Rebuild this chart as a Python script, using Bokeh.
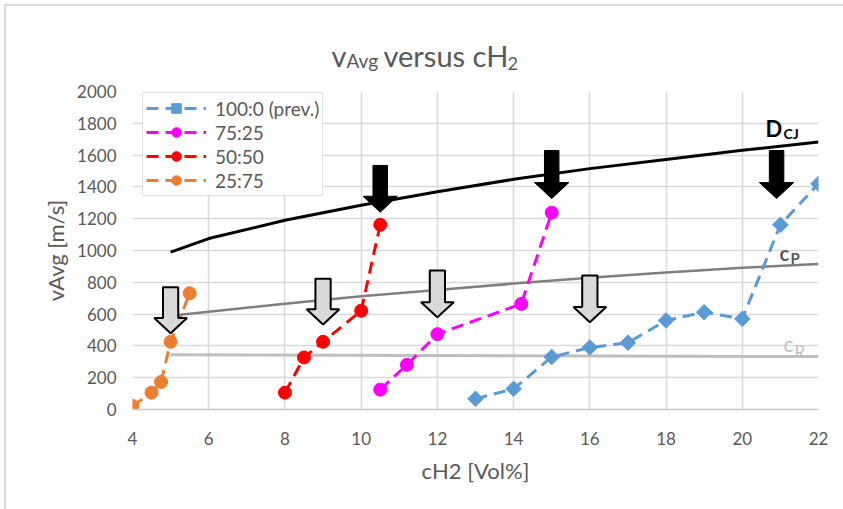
import math
from bokeh.plotting import figure
from bokeh.models import Label, SingleIntervalTicker, Legend, LegendItem, Range1d
from bokeh.layouts import column
from bokeh.core.properties import value
from bokeh.embed import file_html
from bokeh.resources import INLINE

# ---------------- data ----------------
blue_x = [13, 14, 15, 16, 17, 18, 19, 20, 21, 22]
blue_y = [67, 130, 330, 390, 420, 560, 612, 570, 1162, 1420]
mag_x = [10.5, 11.2, 12, 14.2, 15]
mag_y = [125, 281, 474, 664, 1238]
red_x = [8, 8.5, 9, 10, 10.5]
red_y = [106, 327, 426, 621, 1162]
ora_x = [4, 4.5, 4.75, 5, 5.5]
ora_y = [22, 106, 173, 426, 731]

dcj_x = [5, 6, 8, 10, 12, 14, 16, 18, 20, 22]
dcj_y = [990, 1075, 1190, 1285, 1370, 1448, 1515, 1572, 1630, 1683]
cp_x = [5, 6, 8, 10, 12, 14, 16, 18, 20, 22]
cp_y = [590, 615, 665, 712, 752, 792, 828, 862, 892, 915]
cr_x = [5, 22]
cr_y = [345, 333]

# arrows: centre x, top of shaft, tip (data units)
black_arrow_x = [10.5, 15, 20.9]
black_arrow_top = [1535, 1629, 1629]
black_arrow_tip = [1241, 1327, 1327]
gray_arrow_x = [5, 9, 12, 16]
gray_arrow_top = [769, 822, 874, 843]
gray_arrow_tip = [480, 535, 580, 549]

legend_labels = ["100:0 (prev.)", "75:25", "50:50", "25:75"]
title_parts = ["v", "Avg", "versus cH", "2"]

# ---------------- layout ----------------
W, H = 843, 509
OX, OY = 6, 6                    # chart-area border offset
TH = 91                          # page y of plot frame top
TOPPAD = 14                      # room above frame for the top tick label
L, R, B = 132, 25, 100
X0, X1, Y0, Y1 = 4, 22, 0, 2000
FW, FH = W - L - R, H - TH - B

FONT = "Lato"
TXT = "#595959"
GRID = "#d9d9d9"

# ---- title band (coordinates = page pixels) ----
tf = figure(width=W - OX, height=TH - OY - TOPPAD,
            x_range=Range1d(L, W - R), y_range=Range1d(TH - TOPPAD, OY),
            output_backend="svg", toolbar_location=None,
            x_axis_type=None, y_axis_type=None,
            min_border_left=L - OX, min_border_right=R,
            min_border_top=0, min_border_bottom=0)
tf.title.visible = False
tf.outline_line_color = None
tf.grid.visible = False
tf.text(x=[331, 346, 383, 507], y=[55, 60, 55, 63], text=title_parts,
        text_font=value(FONT), text_font_size=["29px", "19px", "29px", "18px"],
        text_color=TXT, text_baseline="alphabetic", text_align="left")

# ---- chart ----
p = figure(width=W - OX, height=H - TH + TOPPAD, x_range=(X0, X1), y_range=(Y0, Y1),
           output_backend="svg", toolbar_location=None,
           min_border_left=L - OX, min_border_right=R, min_border_top=TOPPAD,
           min_border_bottom=B)
p.title.visible = False
p.outline_line_color = None
p.background_fill_color = "white"
p.border_fill_color = "white"


def sx(px):
    return X0 + (px - L) / FW * (X1 - X0)


def sy(py):
    return Y0 + (H - B - py) / FH * (Y1 - Y0)


p.xaxis.ticker = SingleIntervalTicker(interval=2)
p.yaxis.ticker = SingleIntervalTicker(interval=200)
for ax in (p.xaxis[0], p.yaxis[0]):
    ax.major_tick_line_color = None
    ax.minor_tick_line_color = None
    ax.major_label_text_font = FONT
    ax.major_label_text_font_size = "17px"
    ax.major_label_text_color = TXT
    ax.axis_label_text_font = FONT
    ax.axis_label_text_font_size = "22px"
    ax.axis_label_text_color = TXT
    ax.axis_label_text_font_style = "normal"
p.yaxis.axis_line_color = None
p.xaxis.axis_line_color = "#c8c8c8"
p.xaxis.axis_line_width = 1.5
p.yaxis.major_label_standoff = 10
p.xaxis.major_label_standoff = 16
p.xaxis.axis_label = "cH2 [Vol%]"
p.yaxis.axis_label = "vAvg [m/s]"
p.xaxis.axis_label_standoff = 9
p.yaxis.axis_label_standoff = 5
p.xgrid.grid_line_color = GRID
p.ygrid.grid_line_color = GRID
p.xgrid.grid_line_width = 1.5
p.ygrid.grid_line_width = 1.5

# reference curves
p.line(dcj_x, dcj_y, line_color="black", line_width=3)
p.line(cp_x, cp_y, line_color="#7f7f7f", line_width=2.5)
p.line(cr_x, cr_y, line_color="#bfbfbf", line_width=3)

DASH = "12 7"
series = [
    (blue_x, blue_y, "#5b9bd5", "square", 11, math.pi / 4),
    (mag_x, mag_y, "#ff00ff", "circle", 13, 0),
    (red_x, red_y, "#ff0000", "circle", 13, 0),
    (ora_x, ora_y, "#ed7d31", "circle", 13, 0),
]
items = []
for (xs, ys, c, m, s, a), lab in zip(series, legend_labels):
    l = p.line(xs, ys, line_color=c, line_width=3, line_dash=DASH)
    sc = p.scatter(xs, ys, marker=m, size=s, angle=a, fill_color=c, line_color=c)
    items.append(LegendItem(label=lab, renderers=[l, sc]))


# block arrows
def arrow_polys(cx, top, tip, hs, hh, head):
    xs, ys = [], []
    for x, t, q in zip(cx, top, tip):
        xs.append([x - hs, x + hs, x + hs, x + hh, x, x - hh, x - hs])
        ys.append([t, t, q + head, q + head, q, q + head, q + head])
    return xs, ys


bx, by = arrow_polys(black_arrow_x, black_arrow_top, black_arrow_tip, 0.19, 0.45, 100)
p.patches(bx, by, fill_color="black", line_color="black", line_width=1)
gx, gy = arrow_polys(gray_arrow_x, gray_arrow_top, gray_arrow_tip, 0.2, 0.43, 95)
p.patches(gx, gy, fill_color="#d9d9d9", line_color="black", line_width=2)

legend = Legend(items=items, location=(10, 213), label_text_font=FONT,
                label_text_font_size="19px", label_text_color=TXT,
                glyph_width=60, glyph_height=24, label_height=22, spacing=-1,
                padding=3, label_standoff=9, border_line_color="#bfbfbf",
                border_line_width=1.5, background_fill_color="white",
                background_fill_alpha=1)
p.add_layout(legend)


def lab(text, px, py, size, color, style="normal"):
    p.add_layout(Label(x=sx(px), y=sy(py), text=text, text_font=FONT,
                       text_font_size=size, text_color=color,
                       text_font_style=style, text_align="left",
                       text_baseline="alphabetic"))


# curve labels
lab("D", 765, 128, "22px", "black", "bold")
lab("CJ", 783, 133, "14px", "black", "bold")
lab("c", 779, 252, "20px", TXT, "bold")
lab("P", 790, 257, "15px", TXT, "bold")
lab("c", 783, 343, "21px", "#bfbfbf")
lab("R", 794, 351, "17px", "#bfbfbf")

layout = column(tf, p, styles={"margin-left": "4px", "margin-top": "4px",
                               "border-top": "2px solid #dcdcdc",
                               "border-left": "2px solid #dcdcdc"})

open("out.html", "w").write(file_html(layout, INLINE))
